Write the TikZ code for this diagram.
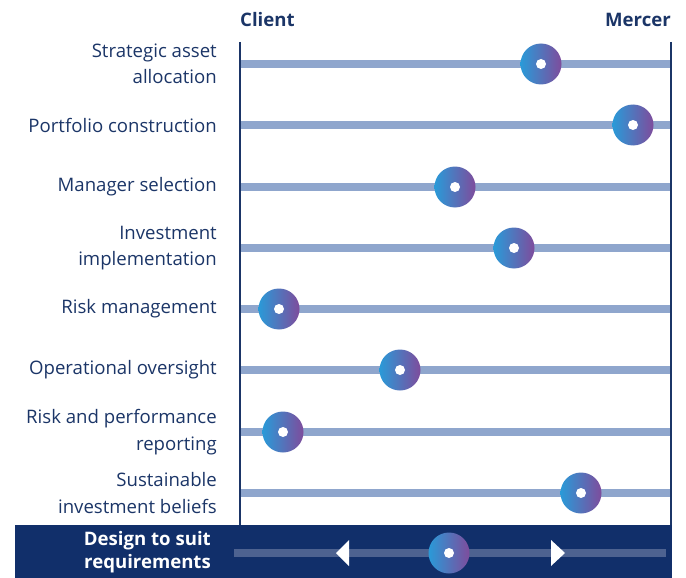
\documentclass[tikz,border=0pt]{standalone}
\usepackage{fontspec}
\setmainfont{Open Sans}
\usetikzlibrary{positioning}

\definecolor{navy}{HTML}{1B3567}
\definecolor{bandnavy}{HTML}{112F6A}
\definecolor{barblue}{HTML}{8FA6CD}
\definecolor{bandbar}{HTML}{4D6290}
\definecolor{dotblue}{HTML}{2A9AD8}
\definecolor{dotpurple}{HTML}{7E4C9C}

\def \barWidth {8pt}
\def \holeRadius {5pt}

\tikzset{
  rowlabel/.style={anchor=east, align=right, text=navy, inner sep=0pt,
    font=\fontsize{18.6}{26.5}\selectfont},
  endlabel/.style={text=navy, inner sep=0pt, font=\fontsize{18.6}{22}\selectfont\bfseries},
  dot/.style={circle, minimum size=41pt, inner sep=0pt,
    left color=dotblue, right color=dotpurple},
  bar/.style={barblue, line width=\barWidth},
  axis/.style={navy, line width=1.4pt}
}

\begin{document}
\begin{tikzpicture}[x=1pt,y=-1pt]
  \useasboundingbox (0,0) rectangle (686,578);

  % ends of the scale
  \node[endlabel, anchor=base west] (client) at (240,27) {Client};
  \node[endlabel, anchor=base east] (mercer) at (671,27) {Mercer};
  \coordinate (cTop) at (240,42);
  \coordinate (cBot) at (240,525);
  \coordinate (mTop) at (671,42);
  \coordinate (mBot) at (671,525);

  % rows: bar y / dot x / label
  \foreach \y/\x/\txt [count=\i] in {
      64/541/{Strategic asset\\allocation},
      125/633/{Portfolio construction},
      187/455/{Manager selection},
      248/514/{Investment\\implementation},
      309/279/{Risk management},
      370/400/{Operational oversight},
      432/283/{Risk and performance\\reporting},
      493/581/{Sustainable\\investment beliefs}} {
    \node[rowlabel] (lab\i) at (217,\y) {\txt};
    \coordinate (l\i) at (240,\y);
    \coordinate (r\i) at (671,\y);
    \draw[bar] (l\i) -- (r\i);
    \node[dot] (dot\i) at (\x,\y) {};
    \fill[white] (dot\i.center) circle (\holeRadius);
  }

  \draw[axis] (cTop) -- (cBot);
  \draw[axis] (mTop) -- (mBot);

  % bottom band
  \fill[bandnavy] (15,525) rectangle (672,578);
  \node[rowlabel, text=white, font=\fontsize{18.6}{23}\selectfont\bfseries] (design) at (211,552) {Design to suit\\requirements};
  \coordinate (bl) at (234,553);
  \coordinate (br) at (666,553);
  \draw[bandbar, line width=\barWidth] (bl) -- (br);
  \fill[white] (336,553) -- (349,540) -- (349,566) -- cycle;
  \fill[white] (565,553) -- (551,540) -- (551,566) -- cycle;
  \node[dot] (suit) at (449,553) {};
  \fill[white] (suit.center) circle (\holeRadius);
\end{tikzpicture}
\end{document}
